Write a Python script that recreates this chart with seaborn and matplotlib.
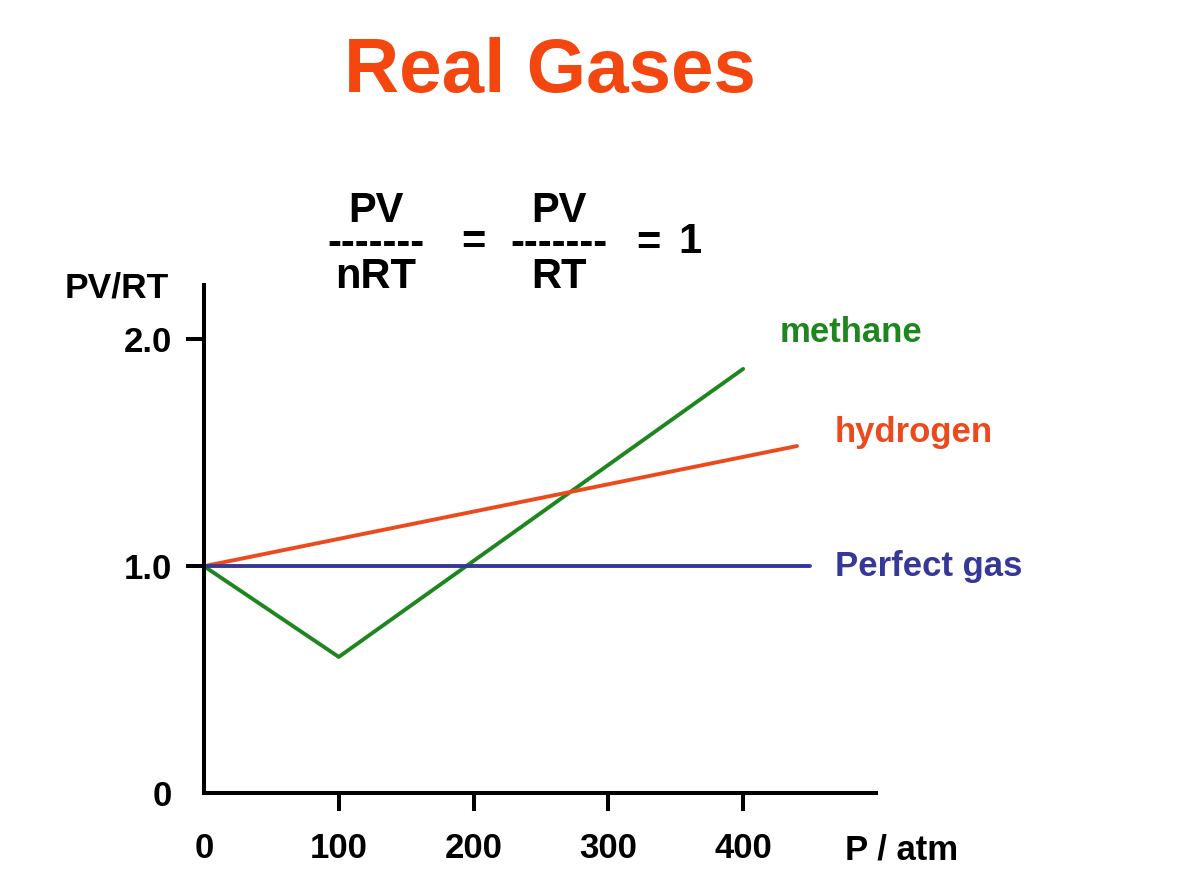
import numpy as np
import pandas as pd
import matplotlib
matplotlib.use("Agg")
import matplotlib.pyplot as plt
import seaborn as sns

# ====== Data ======
methane_p = [0, 100, 400]
methane_z = [1.0, 0.6, 1.87]
hydrogen_p = [0, 440]
hydrogen_z = [1.0, 1.53]
perfect_p = [0, 450]
perfect_z = [1.0, 1.0]

x_ticks = [0, 100, 200, 300, 400]
x_labels = ["0", "100", "200", "300", "400"]
y_ticks = [0, 1.0, 2.0]
y_labels = ["0", "1.0", "2.0"]

colors = {"methane": "#1E861E", "hydrogen": "#EC4A1C", "Perfect gas": "#37379A"}
title_color = "#F4460F"

df = pd.concat([
    pd.DataFrame({"P": methane_p, "z": methane_z, "gas": "methane"}),
    pd.DataFrame({"P": hydrogen_p, "z": hydrogen_z, "gas": "hydrogen"}),
    pd.DataFrame({"P": perfect_p, "z": perfect_z, "gas": "Perfect gas"}),
])

sns.set_theme(style="ticks")
plt.rcParams["font.family"] = ["Liberation Sans", "DejaVu Sans"]
plt.rcParams["font.weight"] = "bold"
plt.rcParams["text.color"] = "black"

W, H = 1185, 869
fig = plt.figure(figsize=(W / 100, H / 100), dpi=100)
ax = fig.add_axes([204 / W, 1 - 793 / H, (876 - 204) / W, (793 - 285) / H])


def px_text(x, y, s, **kw):
    # place text using pixel coords of the slide (y from top)
    fig.text(x / W, 1 - y / H, s, fontweight="bold", color="black", **kw)


# ====== Lines ======
sns.lineplot(data=df, x="P", y="z", hue="gas", palette=colors,
             estimator=None, sort=False, linewidth=2.8, legend=False, ax=ax)

ax.set_xlim(0, 498.6)
ax.set_ylim(0, 2.24)
sns.despine(ax=ax)
for side in ["left", "bottom"]:
    ax.spines[side].set_linewidth(2.9)
    ax.spines[side].set_color("black")

ax.set_xticks(x_ticks)
ax.set_xticklabels(x_labels)
ax.set_yticks(y_ticks)
ax.set_yticklabels(y_labels)
ax.tick_params(axis="both", direction="out", length=13, width=2.9,
               color="black", labelsize=25, labelcolor="black")
ax.tick_params(axis="x", pad=15)
ax.tick_params(axis="y", pad=10)
for lbl in ax.get_xticklabels() + ax.get_yticklabels():
    lbl.set_fontweight("bold")
# no tick mark at the origin
ax.xaxis.get_major_ticks()[0].tick1line.set_visible(False)
ax.yaxis.get_major_ticks()[0].tick1line.set_visible(False)
ax.set_xlabel("")
ax.set_ylabel("")

# series labels next to the line ends
ax.text(427, 2.03, "methane", ha="left", va="center", fontsize=25,
        fontweight="bold", color=colors["methane"], clip_on=False)
ax.text(468, 1.59, "hydrogen", ha="left", va="center", fontsize=25,
        fontweight="bold", color=colors["hydrogen"], clip_on=False)
ax.text(468, 1.0, "Perfect gas", ha="left", va="center", fontsize=25,
        fontweight="bold", color=colors["Perfect gas"], clip_on=False)

# ====== Texts ======
fig.text(550 / W, 1 - 92 / H, "Real Gases", ha="center", va="baseline",
         fontsize=55, fontweight="bold", color=title_color)

px_text(376, 244, "PV\n-------\nnRT", ha="center", va="center",
        multialignment="center", fontsize=30, linespacing=0.76)
px_text(473, 254, "=", ha="center", va="baseline", fontsize=30)
px_text(559, 244, "PV\n-------\nRT", ha="center", va="center",
        multialignment="center", fontsize=30, linespacing=0.76)
px_text(648, 255, "=", ha="center", va="baseline", fontsize=30)
px_text(690, 253, "1", ha="center", va="baseline", fontsize=30)

px_text(65, 298, "PV/RT", ha="left", va="baseline", fontsize=25.5)
px_text(845, 860, "P / atm", ha="left", va="baseline", fontsize=25)

fig.savefig("out.png", dpi=100)
